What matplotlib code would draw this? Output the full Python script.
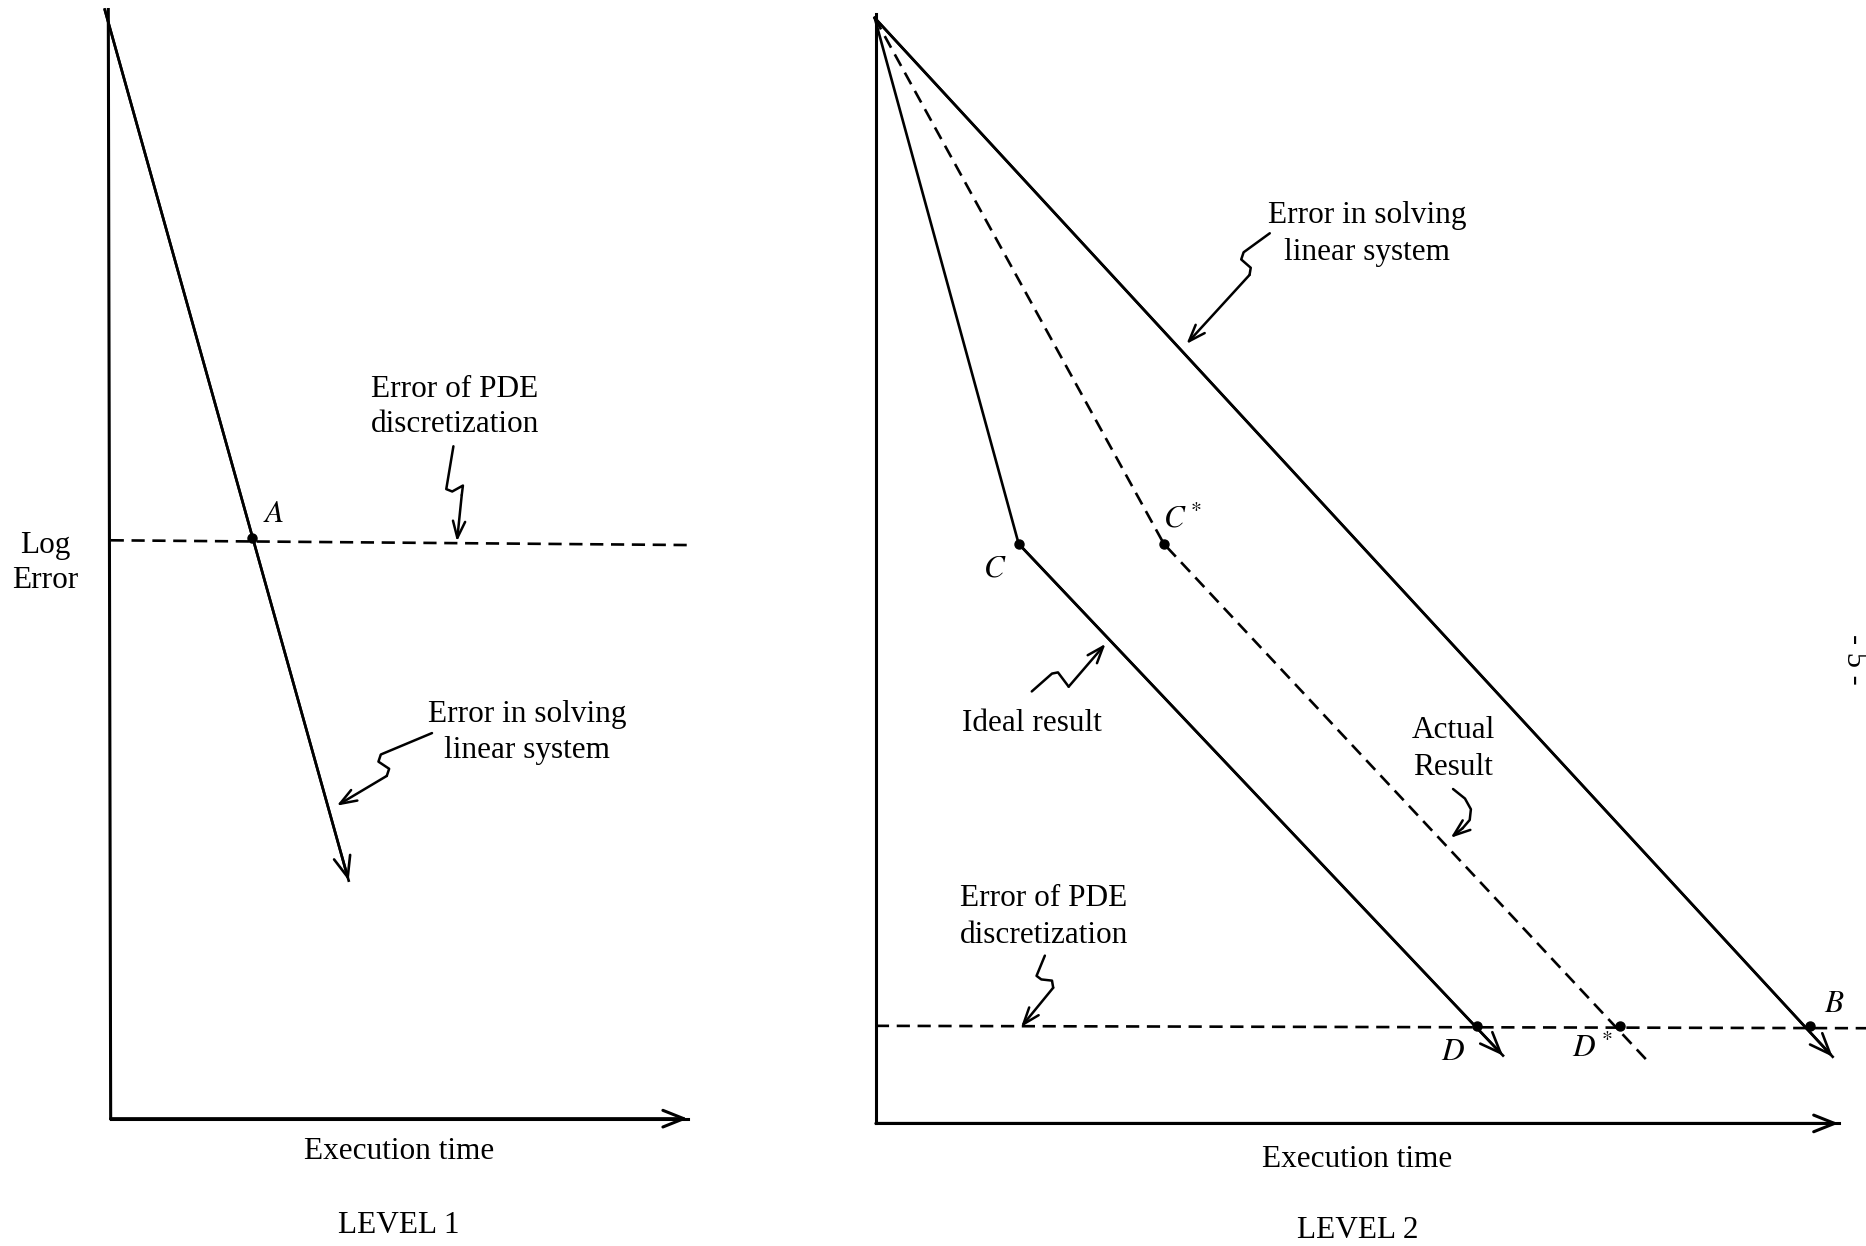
import matplotlib
matplotlib.use("Agg")
import matplotlib.pyplot as plt

plt.rcParams['font.family'] = ['Liberation Serif', 'DejaVu Serif']
plt.rcParams['mathtext.fontset'] = 'stix'

# ---- geometry of the schematic (in reference-image units, 1568 x 1047) ----
# LEVEL 1 panel
l1_yaxis_x = [91, 93]
l1_yaxis_y = [8, 940]
l1_xaxis_x = [93, 578]
l1_xaxis_y = [940, 940]
l1_solve_x = [88, 293]
l1_solve_y = [8, 740]
l1_pde_x = [93, 578]
l1_pde_y = [454, 458]
l1_point_A = (212, 452)
l1_sq_pde_x = [381, 375, 380, 389, 388, 384]
l1_sq_pde_y = [375, 411, 413, 408, 416, 455]
l1_sq_solve_x = [363, 320, 318, 327, 325, 283]
l1_sq_solve_y = [616, 634, 640, 646, 652, 677]

# LEVEL 2 panel
l2_yaxis_x = [736, 736]
l2_yaxis_y = [12, 944]
l2_xaxis_x = [736, 1545]
l2_xaxis_y = [944, 944]
l2_ideal_x = [735, 856, 1263]
l2_ideal_y = [15, 457, 887]
l2_actual_x = [735, 978, 1383]
l2_actual_y = [15, 457, 890]
l2_solve_x = [735, 1540]
l2_solve_y = [15, 888]
l2_pde_x = [736, 1568]
l2_pde_y = [862, 864]
l2_points_x = [856, 978, 1241, 1361, 1521]
l2_points_y = [457, 457, 862, 862, 862]
l2_sq_solve_x = [1067, 1045, 1043, 1051, 1050, 997]
l2_sq_solve_y = [196, 212, 218, 225, 231, 289]
l2_sq_ideal_x = [867, 884, 889, 898, 929]
l2_sq_ideal_y = [581, 566, 565, 577, 541]
l2_sq_actual_x = [1221, 1231, 1236, 1235, 1229, 1219]
l2_sq_actual_y = [663, 671, 680, 689, 696, 704]
l2_sq_pde_x = [878, 871, 875, 884, 885, 858]
l2_sq_pde_y = [803, 820, 823, 824, 830, 863]

W, H = 1568, 1047
LW = 1.9
DASH = (0, (5.0, 2.9))

fig = plt.figure(figsize=(18.66, 12.46), dpi=100)
ax = fig.add_axes([0, 0, 1, 1])
ax.set_xlim(0, W)
ax.set_ylim(H, 0)
ax.axis('off')


def arrowhead(xs, ys, big=True, lw=LW):
    hl, hw = (0.75, 0.3) if big else (0.6, 0.22)
    ax.annotate('', xy=(xs[-1], ys[-1]), xytext=(xs[-2], ys[-2]),
                arrowprops=dict(arrowstyle=f'->,head_length={hl},head_width={hw}',
                                lw=lw, color='k', shrinkA=0, shrinkB=0,
                                mutation_scale=20))


def squiggle(xs, ys):
    ax.plot(xs[:-1], ys[:-1], color='k', lw=1.8, solid_joinstyle='round',
            solid_capstyle='round')
    arrowhead(xs[-2:], ys[-2:], big=False, lw=1.8)


# ---- LEVEL 1 ----
ax.plot(l1_yaxis_x, l1_yaxis_y, color='k', lw=2.2)
ax.plot(l1_xaxis_x, l1_xaxis_y, color='k', lw=2.2)
arrowhead(l1_xaxis_x, l1_xaxis_y, lw=2.2)
ax.plot(l1_solve_x, l1_solve_y, color='k', lw=LW)
arrowhead(l1_solve_x, l1_solve_y)
ax.plot(l1_pde_x, l1_pde_y, color='k', lw=LW, linestyle=DASH)
ax.plot([l1_point_A[0]], [l1_point_A[1]], 'o', color='k', ms=6.5)
squiggle(l1_sq_pde_x, l1_sq_pde_y)
squiggle(l1_sq_solve_x, l1_sq_solve_y)

FS = 22.5
ax.text(230, 432, '$A$', fontsize=FS, ha='center', va='center')
ax.text(382, 327, 'Error of PDE', fontsize=FS, ha='center', va='center')
ax.text(382, 357, 'discretization', fontsize=FS, ha='center', va='center')
ax.text(443, 600, 'Error in solving', fontsize=FS, ha='center', va='center')
ax.text(443, 631, 'linear system', fontsize=FS, ha='center', va='center')
ax.text(38, 458, 'Log', fontsize=FS, ha='center', va='center')
ax.text(38, 488, 'Error', fontsize=FS, ha='center', va='center')
ax.text(335, 968, 'Execution time', fontsize=FS, ha='center', va='center')
ax.text(335, 1030, 'LEVEL 1', fontsize=FS, ha='center', va='center')

# ---- LEVEL 2 ----
ax.plot(l2_yaxis_x, l2_yaxis_y, color='k', lw=2.2)
ax.plot(l2_xaxis_x, l2_xaxis_y, color='k', lw=2.2)
arrowhead(l2_xaxis_x, l2_xaxis_y, lw=2.2)
ax.plot(l2_ideal_x, l2_ideal_y, color='k', lw=LW)
arrowhead(l2_ideal_x, l2_ideal_y)
ax.plot(l2_actual_x, l2_actual_y, color='k', lw=LW, linestyle=DASH)
ax.plot(l2_solve_x, l2_solve_y, color='k', lw=LW)
arrowhead(l2_solve_x, l2_solve_y)
ax.plot(l2_pde_x, l2_pde_y, color='k', lw=LW, linestyle=DASH)
ax.plot(l2_points_x, l2_points_y, 'o', color='k', ms=6.5, linestyle='none')
squiggle(l2_sq_solve_x, l2_sq_solve_y)
squiggle(l2_sq_ideal_x, l2_sq_ideal_y)
squiggle(l2_sq_actual_x, l2_sq_actual_y)
squiggle(l2_sq_pde_x, l2_sq_pde_y)

ax.text(836, 478, '$C$', fontsize=FS, ha='center', va='center')
ax.text(994, 437, '$C^*$', fontsize=FS, ha='center', va='center')
ax.text(1221, 884, '$D$', fontsize=FS, ha='center', va='center')
ax.text(1338, 882, '$D^*$', fontsize=FS, ha='center', va='center')
ax.text(1541, 844, '$B$', fontsize=FS, ha='center', va='center')
ax.text(1149, 181, 'Error in solving', fontsize=FS, ha='center', va='center')
ax.text(1149, 212, 'linear system', fontsize=FS, ha='center', va='center')
ax.text(867, 608, 'Ideal result', fontsize=FS, ha='center', va='center')
ax.text(1221, 614, 'Actual', fontsize=FS, ha='center', va='center')
ax.text(1221, 645, 'Result', fontsize=FS, ha='center', va='center')
ax.text(877, 755, 'Error of PDE', fontsize=FS, ha='center', va='center')
ax.text(877, 786, 'discretization', fontsize=FS, ha='center', va='center')
ax.text(1140, 974, 'Execution time', fontsize=FS, ha='center', va='center')
ax.text(1141, 1034, 'LEVEL 2', fontsize=FS, ha='center', va='center')
ax.text(1558, 554, '- 5 -', fontsize=22, ha='center', va='center', rotation=-90)

fig.savefig('out.png', dpi=100, facecolor='white')
